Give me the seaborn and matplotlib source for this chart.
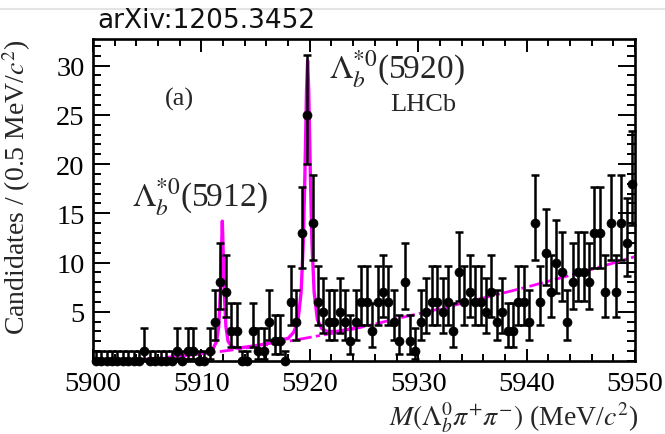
import numpy as np
import pandas as pd
import matplotlib
matplotlib.use("Agg")
import matplotlib.pyplot as plt
import seaborn as sns
from matplotlib.ticker import MultipleLocator, FixedLocator
from matplotlib.lines import Line2D

# ---------------- data ----------------
bin_start = 5900.0
bin_width = 0.5
counts = [0, 0, 0, 0, 0, 0, 0, 0, 0, 1,
          0, 0, 0, 0, 0, 1, 0, 1, 1, 0,
          0, 1, 4, 8, 7, 3, 3, 0, 0, 3,
          1, 1, 4, 2, 2, 0, 6, 4, 13, 25,
          14, 6, 5, 4, 4, 5, 4, 2, 4, 6,
          6, 3, 6, 7, 6, 4, 2, 8, 2, 1,
          4, 5, 6, 6, 5, 6, 3, 9, 6, 7,
          6, 6, 5, 7, 4, 5, 3, 3, 6, 6,
          4, 14, 6, 11, 7, 10, 9, 4, 8, 9,
          9, 8, 13, 13, 7, 14, 7, 14, 12, 18]

# background component of the fit (dash-dotted)
bkg_mass = [5902, 5904, 5906, 5908, 5910, 5912, 5914, 5916, 5918, 5920,
            5922, 5924, 5926, 5928, 5930, 5932, 5934, 5936, 5938, 5940,
            5942, 5944, 5946, 5948, 5950]
bkg_yield = [0.0, 0.12, 0.3, 0.5, 0.75, 1.0, 1.3, 1.65, 2.0, 2.4,
             2.8, 3.25, 3.75, 4.3, 4.8, 5.3, 5.85, 6.4, 6.95, 7.5,
             8.1, 8.7, 9.3, 9.95, 10.6]

# total fit (solid) in the signal region
fit_mass = [5908.0, 5909.0, 5910.0, 5910.7, 5911.1, 5911.4, 5911.6, 5911.75,
            5911.85, 5911.93, 5912.01, 5912.11, 5912.26, 5912.46, 5912.8,
            5913.3, 5914.0, 5915.0, 5916.0, 5917.0, 5917.6, 5918.0, 5918.5,
            5918.9, 5919.2, 5919.4, 5919.55, 5919.7, 5919.8, 5919.9, 5920.05,
            5920.2, 5920.4, 5920.7, 5921.1, 5921.6, 5922.5, 5923.5, 5925.0]
fit_yield = [0.5, 0.62, 0.78, 0.98, 1.3, 2.0, 3.5, 7.0,
             11.0, 14.2, 11.0, 7.0, 3.5, 2.0, 1.45,
             1.3, 1.4, 1.55, 1.75, 1.95, 2.2, 2.3, 2.9,
             4.0, 7.0, 12.0, 19.0, 27.5, 30.5, 27.5, 19.0,
             12.0, 7.0, 4.2, 3.3, 3.0, 3.0, 3.2, 3.55]

x_ticks = [5900, 5910, 5920, 5930, 5940, 5950]
y_ticks = [5, 10, 15, 20, 25, 30]

# ---------------- derived ----------------
counts_arr = np.array(counts, dtype=float)
mass = bin_start + bin_width * (np.arange(len(counts)) + 0.5)
# Poisson (Gehrels) asymmetric errors
err_hi = np.where(counts_arr > 0, np.sqrt(counts_arr + 0.75) + 1.0, 1.0)
safe = np.where(counts_arr > 0, counts_arr, 1.0)
low_edge = safe * (1 - 1 / (9 * safe) - 1 / (3 * np.sqrt(safe))) ** 3
err_lo = np.where(counts_arr > 0, counts_arr - low_edge, 0.0)

df = pd.DataFrame({"mass": mass, "count": counts_arr})
bkg_df = pd.DataFrame({"mass": bkg_mass, "y": bkg_yield})
fit_df = pd.DataFrame({"mass": fit_mass, "y": fit_yield})

# ---------------- style ----------------
sns.set_theme(style="ticks")
plt.rcParams["font.family"] = ["Liberation Serif", "DejaVu Serif"]
plt.rcParams["mathtext.fontset"] = "stix"

MAG = "#ff00ff"

fig = plt.figure(figsize=(6.65, 4.35), dpi=100)
ax = fig.add_axes([93 / 665, 73 / 435, 542 / 665, 322 / 435])

sns.lineplot(data=bkg_df, x="mass", y="y", color=MAG, lw=2.0, ax=ax,
             sort=False, zorder=2)
ax.lines[-1].set_linestyle((0, (5, 1.5, 1.5, 1.5)))
sns.lineplot(data=fit_df, x="mass", y="y", color=MAG, lw=2.4, ax=ax,
             sort=False, zorder=2)

ax.errorbar(df["mass"], df["count"], yerr=[err_lo, err_hi], fmt="none",
            ecolor="black", elinewidth=1.8, capsize=3.2, capthick=1.8,
            zorder=3, clip_on=False)
sns.scatterplot(data=df, x="mass", y="count", color="black", s=42,
                edgecolor="black", linewidth=0.5, ax=ax, zorder=4,
                clip_on=False)

ax.set_xlim(5900, 5950)
ax.set_ylim(0, 32.7)
ax.xaxis.set_major_locator(FixedLocator(x_ticks))
ax.xaxis.set_minor_locator(MultipleLocator(2))
ax.yaxis.set_major_locator(FixedLocator(y_ticks))
ax.yaxis.set_minor_locator(MultipleLocator(1))
ax.set_xticklabels([str(t) for t in x_ticks])
ax.set_yticklabels([str(t) for t in y_ticks])

for s in ax.spines.values():
    s.set_linewidth(1.9)
    s.set_color("black")
    s.set_visible(True)
ax.tick_params(which="both", direction="in", top=True, right=True,
               width=1.4, color="black", labelcolor="black")
ax.tick_params(axis="x", which="major", length=9, labelsize=20.5, pad=7)
ax.tick_params(axis="x", which="minor", length=5)
ax.tick_params(axis="y", which="major", length=12, labelsize=20.5, pad=6)
ax.tick_params(axis="y", which="minor", length=6)

ax.set_xlabel(r"$M(\Lambda_{b}^{0}\pi^{+}\pi^{-})$ (MeV/$c^{2}$)",
              fontsize=20, loc="right")
ax.xaxis.set_label_coords(1.006, -0.118)
ax.xaxis.label.set_va("top")
ax.set_ylabel(r"Candidates / (0.5 MeV/$c^{2}$)", fontsize=20, loc="top")
ax.yaxis.set_label_coords(-0.11, 1.0)

ax.text(5908.0, 26.7, "(a)", fontsize=19, ha="center", va="center")
ax.text(5921.8, 28.8, r"$\Lambda_{b}^{*0}$(5920)", fontsize=24,
        ha="left", va="baseline")
ax.text(5927.4, 25.5, "LHCb", fontsize=19, ha="left", va="baseline")
ax.text(5903.6, 15.8, r"$\Lambda_{b}^{*0}$(5912)", fontsize=24,
        ha="left", va="baseline")

fig.text(97 / 665, 1 - 28 / 435, "arXiv:1205.3452", fontsize=19,
         family="DejaVu Sans", ha="left", va="baseline", color="#111111")
fig.add_artist(Line2D([0, 1], [1 - 10 / 435, 1 - 10 / 435],
                      transform=fig.transFigure, color="#e4e4e4", lw=1.5))

fig.savefig("out.png", dpi=100)
